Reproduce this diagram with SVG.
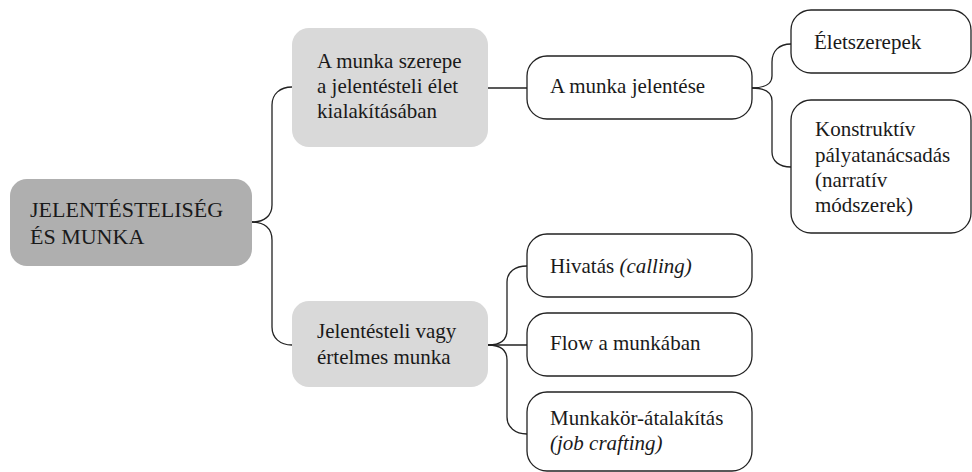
<svg xmlns="http://www.w3.org/2000/svg" width="972" height="472" viewBox="0 0 972 472">
<style>
.root{fill:#afafaf}
.mid{fill:#d9d9d9}
.leaf{fill:#ffffff;stroke:#222;stroke-width:1.3}
.c{fill:none;stroke:#222;stroke-width:1.3}
</style>
<rect width="972" height="472" fill="#ffffff"/>
<g id="connectors">
<path class="c" d="M252,222 C264,222 272,216 272,205 V105 C272,94 280,87 292,87"/>
<path class="c" d="M252,222 C264,222 272,228 272,240 V327 C272,338 280,345 292,345"/>
<path class="c" d="M488,88 H527"/>
<path class="c" d="M752,88 C764,88 772,84 772,76 V62 C772,51 779,44 791,44"/>
<path class="c" d="M752,88 C764,88 772,92 772,101 V152 C772,161 779,167 791,167"/>
<path class="c" d="M488,345 C500,345 507,340 507,330 V282 C507,272 515,266 527,266"/>
<path class="c" d="M488,345 H527"/>
<path class="c" d="M488,345 C500,345 507,350 507,360 V417 C507,427 515,434 527,434"/>
</g>
<g id="root">
<rect class="root" x="10" y="179" width="242" height="87" rx="17"/>
<text x="30" y="217" font-family="Liberation Serif" font-size="22" fill="#1a1a1a">JELENTÉSTELISÉG</text>
<text x="30" y="244" font-family="Liberation Serif" font-size="22" fill="#1a1a1a">ÉS MUNKA</text>
</g>
<g id="n-szerepe">
<rect class="mid" x="292" y="28" width="196" height="119" rx="17"/>
<text x="317" y="68" font-family="Liberation Serif" font-size="21" fill="#1a1a1a">A munka szerepe</text>
<text x="317" y="93" font-family="Liberation Serif" font-size="21" fill="#1a1a1a">a jelentésteli élet</text>
<text x="317" y="118" font-family="Liberation Serif" font-size="21" fill="#1a1a1a">kialakításában</text>
</g>
<g id="n-ertelmes">
<rect class="mid" x="292" y="301" width="196" height="86" rx="17"/>
<text x="317" y="338" font-family="Liberation Serif" font-size="21" fill="#1a1a1a">Jelentésteli vagy</text>
<text x="317" y="364" font-family="Liberation Serif" font-size="21" fill="#1a1a1a">értelmes munka</text>
</g>
<g id="n-jelentese">
<rect class="leaf" x="527" y="56" width="225" height="63" rx="20"/>
<text x="550" y="93" font-family="Liberation Serif" font-size="21" fill="#1a1a1a">A munka jelentése</text>
</g>
<g id="n-eletszerepek">
<rect class="leaf" x="791" y="10" width="180" height="63" rx="20"/>
<text x="814" y="49" font-family="Liberation Serif" font-size="21" fill="#1a1a1a">Életszerepek</text>
</g>
<g id="n-konstruktiv">
<rect class="leaf" x="791" y="100" width="180" height="133" rx="20"/>
<text x="815" y="136" font-family="Liberation Serif" font-size="21" fill="#1a1a1a">Konstruktív</text>
<text x="815" y="162" font-family="Liberation Serif" font-size="21" fill="#1a1a1a">pályatanácsadás</text>
<text x="815" y="187" font-family="Liberation Serif" font-size="21" fill="#1a1a1a">(narratív</text>
<text x="815" y="212" font-family="Liberation Serif" font-size="21" fill="#1a1a1a">módszerek)</text>
</g>
<g id="n-hivatas">
<rect class="leaf" x="527" y="234" width="225" height="63" rx="20"/>
<text x="550" y="273" font-family="Liberation Serif" font-size="21" fill="#1a1a1a">Hivatás <tspan font-style="italic">(calling)</tspan></text>
</g>
<g id="n-flow">
<rect class="leaf" x="527" y="313" width="225" height="63" rx="20"/>
<text x="550" y="350" font-family="Liberation Serif" font-size="21" fill="#1a1a1a">Flow a munkában</text>
</g>
<g id="n-munkakor">
<rect class="leaf" x="527" y="392" width="225" height="79" rx="20"/>
<text x="550" y="425" font-family="Liberation Serif" font-size="21" fill="#1a1a1a">Munkakör-átalakítás</text>
<text x="550" y="450" font-family="Liberation Serif" font-size="21" fill="#1a1a1a" font-style="italic">(job crafting)</text>
</g>
</svg>
